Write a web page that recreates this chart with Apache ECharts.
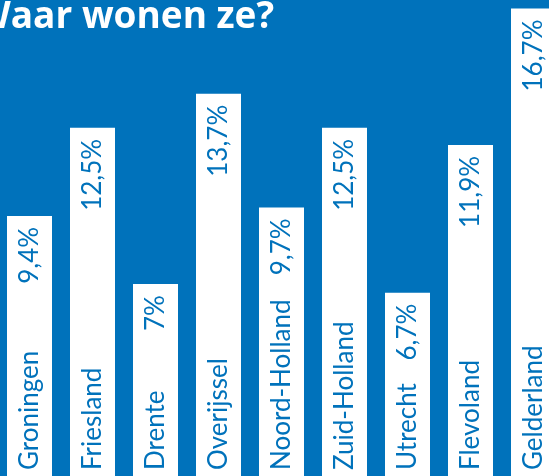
<!DOCTYPE html>
<html>
<head>
<meta charset="utf-8">
<script src="https://cdn.jsdelivr.net/npm/echarts@6/dist/echarts.min.js"></script>
<style>
  html, body { margin: 0; padding: 0; background: #0072bb; }
  #main { width: 549px; height: 476px; }
</style>
</head>
<body>
<div id="main"></div>
<script>
// provincies en percentages
var provincies = ['Groningen', 'Friesland', 'Drente', 'Overijssel', 'Noord-Holland', 'Zuid-Holland', 'Utrecht', 'Flevoland', 'Gelderland'];
var percentages = [9.4, 12.5, 7, 13.7, 9.7, 12.5, 6.7, 11.9, 16.7];

var blauw = '#0072bb';

var myChart = echarts.init(document.getElementById('main'));

var option = {
    backgroundColor: blauw,
    animation: false,
    title: {
        text: 'Waar wonen ze?',
        left: -30,
        top: -6,
        textStyle: {
            color: '#fff',
            fontFamily: 'Open Sans',
            fontWeight: 'bold',
            fontSize: 37
        }
    },
    grid: {
        left: -2,
        right: -16,
        top: 0,
        bottom: -7,
        outerBoundsMode: 'none',
        containLabel: false
    },
    xAxis: {
        type: 'category',
        data: provincies,
        show: false
    },
    yAxis: {
        type: 'value',
        min: 0,
        max: 17,
        show: false
    },
    series: [
        {
            // bar met waarde bovenin
            type: 'bar',
            data: percentages,
            barWidth: 45,
            itemStyle: { color: '#fff' },
            label: {
                show: true,
                position: 'insideTop',
                distance: 11,
                rotate: 90,
                align: 'right',
                verticalAlign: 'middle',
                color: blauw,
                fontFamily: 'Lato',
                fontSize: 26,
                formatter: function (p) {
                    return String(p.value).replace('.', ',') + '%';
                }
            },
            labelLayout: { hideOverlap: false }
        },
        {
            // zelfde bar, alleen de naam onderin
            type: 'bar',
            data: percentages,
            barWidth: 45,
            barGap: '-100%',
            itemStyle: { color: 'rgba(0,0,0,0)' },
            label: {
                show: true,
                position: 'insideBottom',
                distance: 13,
                rotate: 90,
                align: 'left',
                verticalAlign: 'middle',
                color: blauw,
                fontFamily: 'Lato',
                fontSize: 26,
                formatter: function (p) {
                    return p.name;
                }
            }
        }
    ]
};

myChart.setOption(option);
</script>
</body>
</html>
